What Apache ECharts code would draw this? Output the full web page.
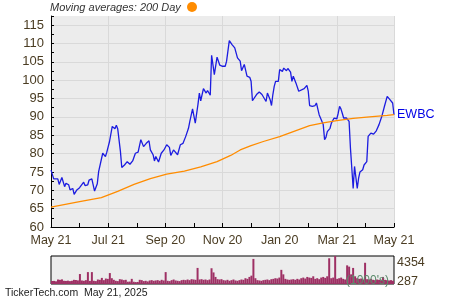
<!DOCTYPE html>
<html>
<head>
<meta charset="utf-8">
<script src="https://cdn.jsdelivr.net/npm/echarts@6/dist/echarts.min.js"></script>
<style>
html,body{margin:0;padding:0;background:#fff;}
#chart{width:450px;height:300px;}
</style>
</head>
<body>
<div id="chart"></div>
<script>
// x tick labels (every 42 trading days)
const tickLabels = ['May 21','Jul 21','Sep 20','Nov 20','Jan 20','Mar 21','May 21'];

// EWBC closing price: trading-day index and value
const priceDays = [0,2,5,6,8,10,11,13,14,16,17,19,21,22,24,25,27,28,30,32,34,35,36,38,40,41,43,44,45,47,48,49,51,52,54,56,58,60,62,63,64,66,68,70,72,73,75,76,77,79,81,83,85,87,88,90,93,95,97,99,101,102,104,106,108,109,110,112,114,115,117,118,120,121,122,123,124,126,128,129,131,133,135,137,139,140,142,144,146,147,148,149,151,153,155,156,158,159,161,162,163,164,165,167,168,170,171,173,174,176,177,178,180,182,183,186,188,189,190,192,194,195,197,198,200,201,202,203,205,206,207,208,210,211,212,213,214,215,216,217,219,220,221,222,223,225,226,227,229,230,232,233,235,237,239,241,242,243,244,245,247,248,249,250,251,252];
const priceVals = [75.5,73.1,73.1,71.6,73.5,71.0,71.9,71.5,70.1,70.5,68.9,70.1,70.7,70.7,72.2,71.3,71.5,72.8,73.1,69.8,71.8,75.1,75.6,80.1,79.2,80.4,83.3,83.8,87.4,86.8,87.7,86.8,80.6,76.2,76.9,77.8,77.1,78.0,80.1,79.7,80.4,83.8,81.9,82.8,83.5,81.0,79.7,78.0,79.2,77.7,80.1,81.0,82.4,81.7,79.5,81.0,79.7,82.4,82.8,84.7,86.9,88.8,92.2,88.3,93.5,96.5,94.4,97.7,96.5,97.2,95.9,106.8,101.5,101.5,106.3,106.1,104.1,103.8,103.8,105.2,110.8,109.7,108.8,106.1,105.2,102.6,104.3,101.1,100.8,99.7,94.4,94.7,96.1,96.8,96.1,95.6,94.2,96.5,94.7,93.1,96.1,98.3,99.7,99.7,102.9,102.4,103.3,102.6,103.2,102.2,99.7,101.1,99.2,97.0,97.5,97.7,98.6,97.0,93.1,92.9,93.1,93.8,90.6,89.7,87.9,83.8,84.4,86.0,86.9,88.3,88.0,89.7,89.5,91.0,92.9,92.2,91.0,89.7,89.2,89.7,88.8,81.5,76.0,70.5,76.5,70.5,73.3,75.0,75.6,76.9,77.8,84.7,85.6,85.3,86.2,87.9,88.3,90.1,89.7,92.9,95.6,95.1,94.7,95.0,93.8,90.6];

// 200 day moving average
const maDays = [0,21,37,49,61,73,85,98,110,122,132,139,147,156,168,181,190,200,210,222,234,247,252];
const maVals = [65.4,66.9,68.0,69.7,71.6,73.2,74.4,75.2,76.4,77.8,79.5,81.0,82.2,83.3,84.6,86.4,87.6,88.4,89.0,89.6,90.0,90.4,90.6];

// volume (1000's)
const volume = [
450,480,420,700,650,720,500,480,520,450,
500,650,620,560,1550,550,500,600,1850,480,
1850,500,450,700,650,950,600,850,800,1700,
900,650,500,450,750,700,600,650,350,380,
800,350,300,320,650,600,450,500,400,550,
600,500,550,600,500,650,550,1850,500,450,
600,700,550,500,450,600,650,600,700,600,
750,700,650,2500,700,750,650,700,600,700,
2450,1800,1100,750,700,750,600,550,650,500,
600,700,550,500,600,700,650,900,800,1100,
1300,3900,900,600,550,500,600,650,700,600,
750,800,900,850,1000,2200,1500,800,700,650,
700,750,650,800,700,900,1000,850,1100,1000,
950,1200,800,900,750,1000,1100,950,1200,4000,
900,1000,4354,800,900,1000,800,700,2900,2700,
1500,2500,1200,900,800,850,700,3300,750,700,
800,650,600,700,650,600,1100,650,600,550,
600,500];
const volLabels = ['4354','287'];
const volCats = volume.map((v, i) => i);

const FONT = 'Liberation Sans, Arial, sans-serif';
const LBL = '#4a3c22';

const chart = echarts.init(document.getElementById('chart'), null, {renderer: 'canvas'});
chart.setOption({
  animation: false,
  backgroundColor: '#ffffff',
  grid: [
    {left: 51, right: 56, top: 16, height: 211, show: true, backgroundColor: '#ececec', borderWidth: 0},
    {left: 51, right: 56, top: 256, height: 28, show: true, backgroundColor: '#ececec', borderColor: '#000', borderWidth: 1}
  ],
  xAxis: [
    {
      type: 'value', gridIndex: 0, min: 0, max: 252, interval: 21,
      axisLine: {show: true, lineStyle: {color: '#000', width: 1}},
      axisTick: {show: true, inside: true, length: 4, lineStyle: {color: '#000'}},
      axisLabel: {
        color: LBL, fontSize: 12.5, fontFamily: FONT, margin: 7,
        formatter: v => (Math.round(v) % 42 === 0 ? tickLabels[Math.round(v) / 42] : '')
      },
      splitLine: {show: true, lineStyle: {color: ['#d9d9d9', 'rgba(0,0,0,0)'], width: 1}}
    },
    {
      type: 'category', gridIndex: 1, data: volCats, boundaryGap: true,
      axisLine: {show: false}, axisTick: {show: false}, axisLabel: {show: false}, splitLine: {show: false}
    }
  ],
  yAxis: [
    {
      type: 'value', gridIndex: 0, min: 60, max: 117.5, interval: 2.5,
      axisLine: {show: true, lineStyle: {color: '#000', width: 1}},
      axisTick: {show: true, inside: true, length: 3, lineStyle: {color: '#000'}},
      axisLabel: {
        color: LBL, fontSize: 13, fontFamily: FONT, margin: 7,
        formatter: v => (Math.abs(v % 5) < 1e-6 ? String(v) : '')
      },
      splitLine: {show: true, lineStyle: {color: ['#d9d9d9', 'rgba(0,0,0,0)'], width: 1}}
    },
    {
      type: 'value', gridIndex: 1, min: 0, max: 4354,
      axisLine: {show: false}, axisTick: {show: false}, axisLabel: {show: false}, splitLine: {show: false}
    }
  ],
  series: [
    {
      name: 'EWBC', type: 'line', xAxisIndex: 0, yAxisIndex: 0,
      data: priceDays.map((d, i) => [d, priceVals[i]]),
      showSymbol: false, symbol: 'none',
      lineStyle: {color: '#1c1ce0', width: 1.3},
      endLabel: {show: true, formatter: 'EWBC', color: '#0000e6', fontSize: 12.5, fontFamily: FONT, distance: 3},
      z: 3
    },
    {
      name: 'MA200', type: 'line', xAxisIndex: 0, yAxisIndex: 0,
      data: maDays.map((d, i) => [d, maVals[i]]),
      showSymbol: false, symbol: 'none',
      lineStyle: {color: '#ff8c00', width: 1.3},
      z: 4
    },
    {
      name: 'Volume', type: 'bar', xAxisIndex: 1, yAxisIndex: 1,
      data: volume, barWidth: '100%', barCategoryGap: 0,
      itemStyle: {color: '#9e3064'}
    }
  ],
  graphic: [
    {type: 'text', left: 50, top: 2, style: {text: 'Moving averages: 200 Day', fill: '#333', font: 'italic 11px ' + FONT}},
    {type: 'circle', shape: {cx: 192, cy: 7, r: 5}, style: {fill: '#ff8c00'}},
    {type: 'text', left: 397, top: 256, style: {text: volLabels[0], fill: LBL, font: '12.5px ' + FONT}},
    {type: 'text', left: 397, top: 275, style: {text: volLabels[1], fill: LBL, font: '12.5px ' + FONT}},
    {type: 'text', left: 346, top: 275, z: 100, style: {text: "(1000's)", fill: '#5a8a6a', font: '12px ' + FONT}},
    {type: 'text', left: 5, top: 288, style: {text: 'TickerTech.com  May 21, 2025', fill: '#222', font: '10.5px ' + FONT}}
  ]
});
</script>
</body>
</html>
